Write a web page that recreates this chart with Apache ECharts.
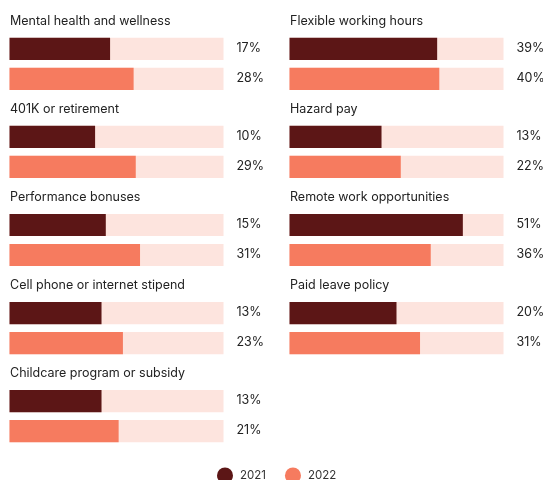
<!DOCTYPE html>
<html>
<head>
<meta charset="utf-8">
<script src="https://cdn.jsdelivr.net/npm/echarts@6/dist/echarts.min.js"></script>
<style>
  html, body { margin: 0; padding: 0; background: #ffffff; }
  #chart { width: 543px; height: 480px; }
</style>
</head>
<body>
<div id="chart"></div>
<script>
// Benefit categories, in reading order (left column, right column, row by row)
const categories = [
  'Mental health and wellness',
  'Flexible working hours',
  '401K or retirement',
  'Hazard pay',
  'Performance bonuses',
  'Remote work opportunities',
  'Cell phone or internet stipend',
  'Paid leave policy',
  'Childcare program or subsidy'
];
const years = ['2021', '2022'];
const values2021 = [17, 39, 10, 13, 15, 51, 13, 20, 13];
const values2022 = [28, 40, 29, 22, 31, 36, 23, 31, 21];

const AXIS_MIN = -30;
const AXIS_MAX = 70;
const COLORS = { '2021': '#5c1616', '2022': '#f67b5f' };
const TRACK = '#fde4de';
const FONT = 'Inter, "Noto Sans", sans-serif';

const colLeft = [9.5, 289.5];
const trackWidth = 214;
const rowStep = 88.1;
const gridTop0 = 33.8;

const grids = [], xAxes = [], yAxes = [], series = [], titles = [];

categories.forEach((name, i) => {
  const col = i % 2, row = Math.floor(i / 2);
  const top = gridTop0 + rowStep * row;
  grids.push({ left: colLeft[col], top: top, width: trackWidth, height: 60 });
  xAxes.push({
    gridIndex: i, type: 'value', min: AXIS_MIN, max: AXIS_MAX,
    show: false, splitLine: { show: false }
  });
  yAxes.push({
    gridIndex: i, type: 'category', data: years, inverse: true,
    show: false
  });
  titles.push({
    text: name, left: colLeft[col] + 0.5, top: 14.5 + rowStep * row, padding: 0,
    textStyle: { fontFamily: FONT, fontSize: 12.5, fontWeight: 'normal', color: '#222222' }
  });

  [values2021, values2022].forEach((vals, k) => {
    const year = years[k];
    series.push({
      type: 'custom',
      name: year,
      xAxisIndex: i, yAxisIndex: i,
      itemStyle: { color: COLORS[year] },
      data: [[vals[i], year]],
      renderItem: (params, api) => {
        const cat = api.value(1);
        const start = api.coord([AXIS_MIN, cat]);
        const end = api.coord([AXIS_MAX, cat]);
        const pos = api.coord([api.value(0), cat]);
        const h = api.size([0, 1])[1] * 0.74;
        return {
          type: 'group',
          children: [
            { type: 'rect', shape: { x: start[0], y: start[1] - h / 2, width: end[0] - start[0], height: h },
              style: { fill: TRACK } },
            { type: 'rect', shape: { x: start[0], y: start[1] - h / 2, width: pos[0] - start[0], height: h },
              style: { fill: COLORS[year] } },
            { type: 'text', x: end[0] + 13, y: start[1] - 1,
              style: { text: api.value(0) + '%', fill: '#222222', font: '12.5px ' + FONT,
                       verticalAlign: 'middle', align: 'left' } }
          ]
        };
      }
    });
  });
});

const chart = echarts.init(document.getElementById('chart'), null, { renderer: 'canvas' });
chart.setOption({
  animation: false,
  backgroundColor: '#ffffff',
  title: titles,
  grid: grids,
  xAxis: xAxes,
  yAxis: yAxes,
  legend: {
    data: years,
    top: 467.5, left: 217, padding: 0,
    icon: 'circle', itemWidth: 16, itemHeight: 16, itemGap: 19, itemStyle: { borderWidth: 0 },
    textStyle: { fontFamily: FONT, fontSize: 11.5, color: '#333333', padding: [0, 0, 0, 2] }
  },
  series: series
});
</script>
</body>
</html>
